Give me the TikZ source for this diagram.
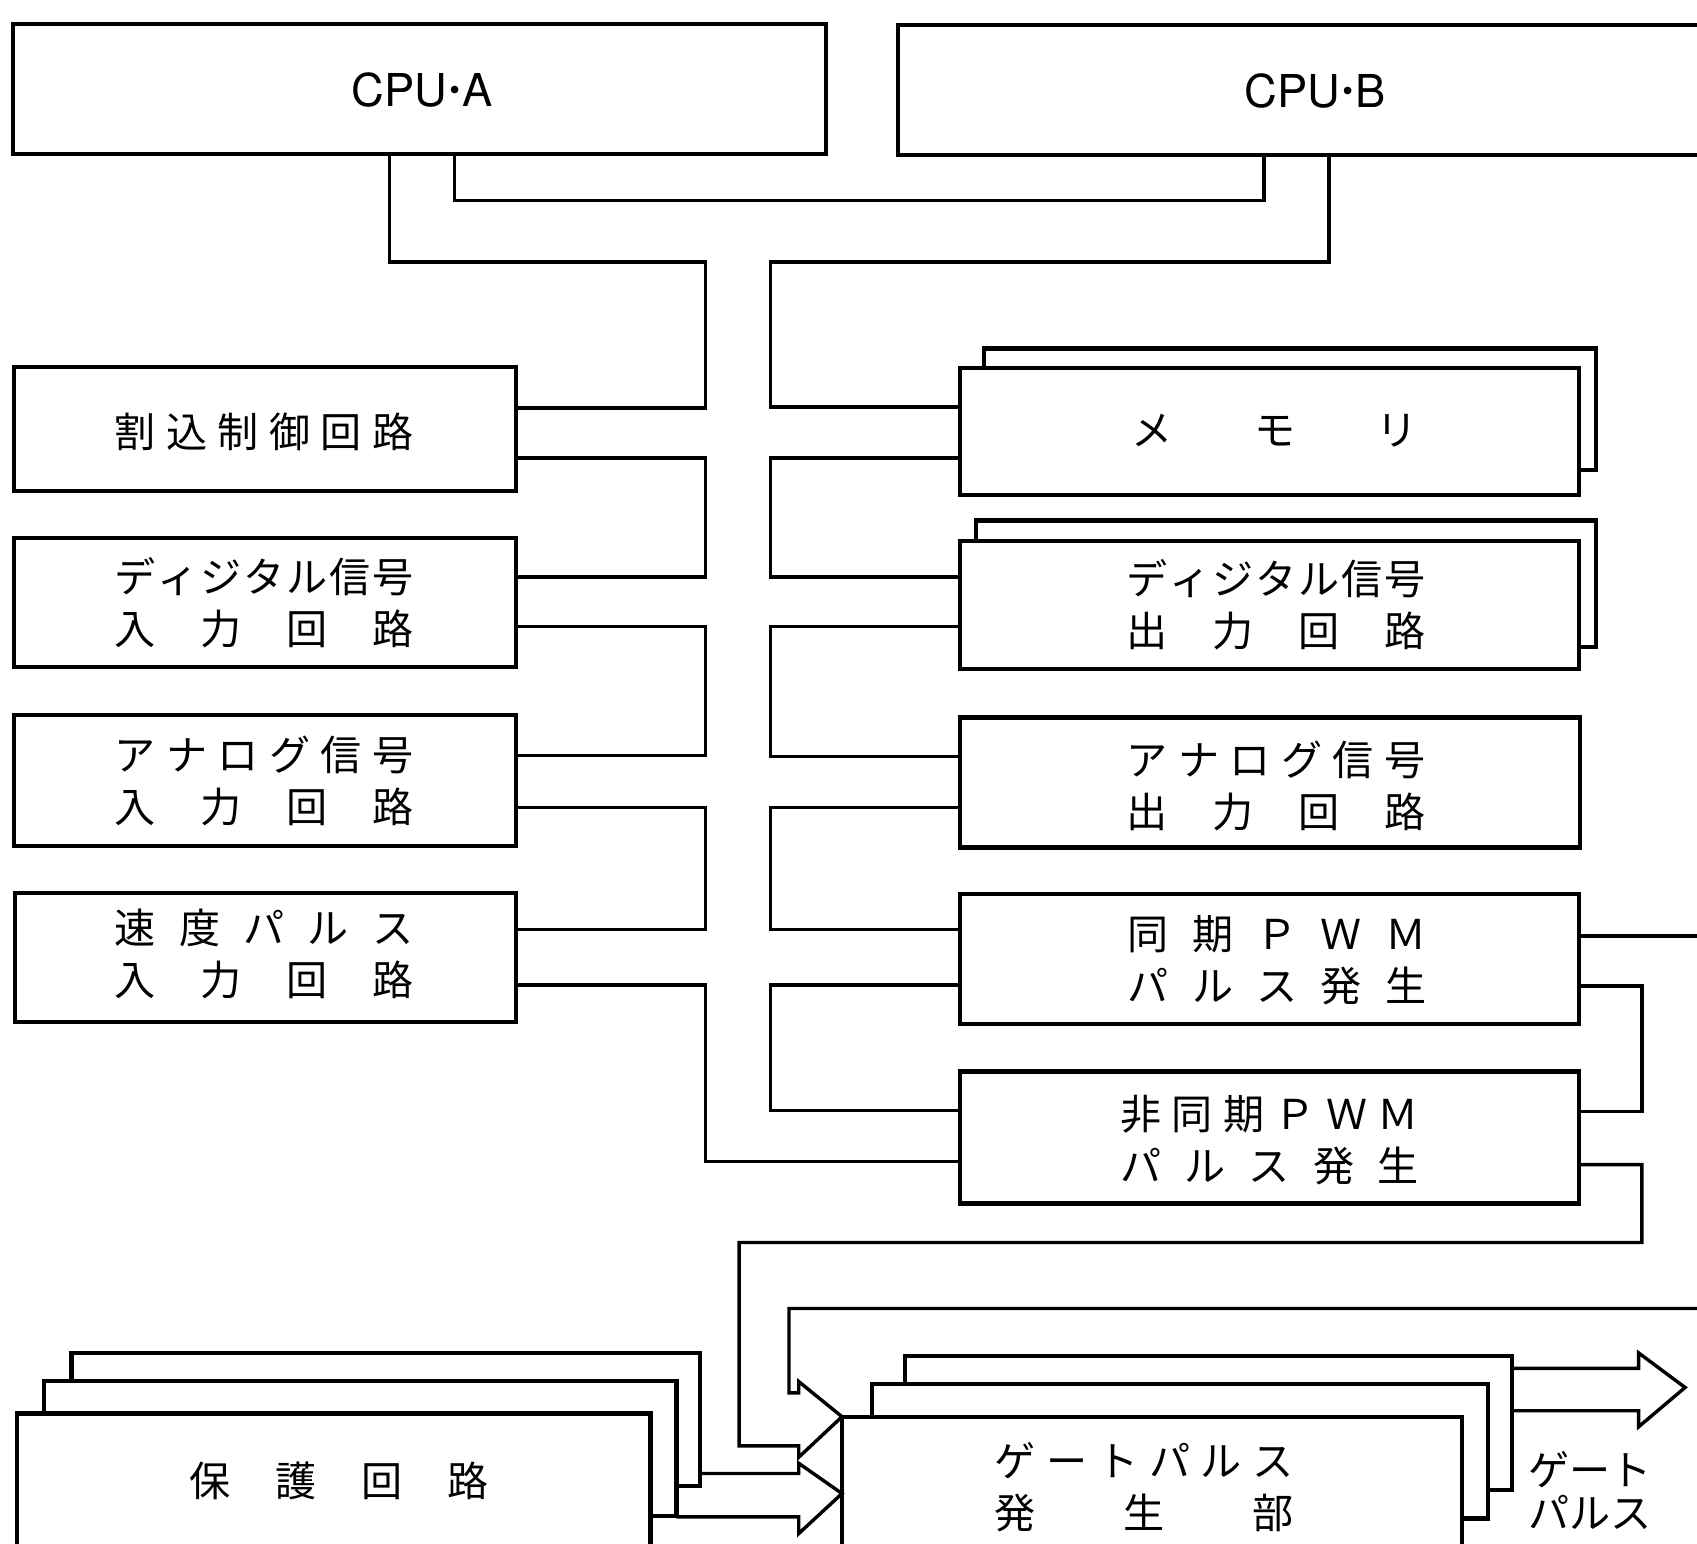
\documentclass[tikz,border=0pt]{standalone}
\usepackage{fontspec}
\newfontfamily\jp{Noto Sans CJK JP}
\newfontfamily\lat{TeX Gyre Heros}
\usetikzlibrary{calc}
\def\spreadaux#1{\ifx#1\relax\else#1\expandafter\spreadnext\fi}
\def\spreadnext#1{\ifx#1\relax\else\hfill#1\expandafter\spreadnext\fi}
\newcommand\spr[2][2.76cm]{\hbox to #1{\spreadaux#2\relax}}
\newcommand\bx[5]{\node[box,anchor=north west,minimum width={(#4-#2)*0.01cm},minimum height={(#5-#3)*0.01cm}] (#1) at (#2,#3) {};}
\newcommand\mdot{\kern0.6pt\raisebox{1.6pt}{\fontsize{8}{8}\selectfont •}\kern0.6pt}
\begin{document}
\begin{tikzpicture}[x=0.01cm,y=-0.01cm,
  box/.style={draw,line width=1.1pt,fill=white,inner sep=0pt,outer sep=0pt},
  ln/.style={line width=0.9pt,line join=miter},
  txt/.style={font=\jp\fontsize{10.8}{13.66}\selectfont,align=center,inner sep=0pt},
  lbl/.style={font=\jp\fontsize{10.8}{11.4}\selectfont,align=center,inner sep=0pt},
  lt/.style={font=\lat\fontsize{11.9}{14}\selectfont,inner sep=0pt}]
\useasboundingbox (0,0) rectangle (1568,1426);
\fill[white] (0,0) rectangle (1568,1426);
\clip (0,0) rectangle (1568,1426);
% boxes
\bx{cpua}{12}{22}{763}{142}
\bx{cpub}{830}{23}{1600}{143}
\bx{intr}{13}{339}{477}{454}
\bx{din}{13}{497}{477}{616}
\bx{ain}{13}{661}{477}{782}
\bx{spd}{14}{825}{477}{944}
\bx{memb}{909}{322}{1475}{434}
\bx{mem}{887}{340}{1459}{457}
\bx{doutb}{902}{481}{1475}{598}
\bx{dout}{887}{500}{1459}{618}
\bx{aout}{887}{663}{1460}{783}
\bx{spwm}{887}{826}{1459}{946}
\bx{apwm}{887}{990}{1459}{1112}
\bx{prot3}{66}{1250}{647}{1373}
\bx{prot2}{41}{1276}{625}{1401}
\bx{prot}{16}{1306}{601}{1450}
\bx{gate3}{836}{1253}{1397}{1377}
\bx{gate2}{806}{1279}{1375}{1403}
\bx{gate}{778}{1309}{1351}{1450}
% texts
\node[lt] (tcpua) at (390,83) {CPU\mdot A};
\node[lt] (tcpub) at (1215,84) {CPU\mdot B};
\node[txt] (tintr) at (244,399) {\spr{割込制御回路}};
\node[txt] (tdin) at (244,557) {\spr{ディジタル信号}\\\spr{入力回路}};
\node[txt] (tain) at (244,722) {\spr{アナログ信号}\\\spr{入力回路}};
\node[txt] (tspd) at (244,881) {\spr{速度パルス}\\\spr{入力回路}};
\node[txt] (tmem) at (1178,398) {\spr[2.64cm]{メモリ}};
\node[txt] (tdout) at (1179,559) {\spr{ディジタル信号}\\\spr{出力回路}};
\node[txt] (taout) at (1179,726) {\spr{アナログ信号}\\\spr{出力回路}};
\node[txt] (tspwm) at (1180,887) {\spr{同期ＰＷＭ}\\\spr{パルス発生}};
\node[txt] (tapwm) at (1173,1053) {\spr{非同期ＰＷＭ}\\\spr{パルス発生}};
\node[txt] (tprot) at (313,1368) {\spr{保護回路}};
\node[txt] (tgate) at (1057,1374) {\spr{ゲートパルス}\\\spr{発生部}};
\node[lbl] (tout) at (1469,1377) {ゲート\\パルス};
% coordinates
\coordinate (edgeA) at (1575,865);
\coordinate (edgeB) at (1575,1209);
\coordinate (outtip) at (1557,1282);
% CPU links
\draw[ln] (cpua.south -| 420,0) -- (420,185) -| (cpub.south -| 1168,0);
\draw[ln] (cpua.south -| 360,0) |- (652,242) |- (intr.east |- 0,377);
\draw[ln] (cpub.south -| 1228,0) |- (712,242) |- (mem.west |- 0,376);
% left chain
\draw[ln] (intr.east |- 0,423) -| (652,533) -- (din.east |- 0,533);
\draw[ln] (din.east |- 0,579) -| (652,698) -- (ain.east |- 0,698);
\draw[ln] (ain.east |- 0,746) -| (652,859) -- (spd.east |- 0,859);
\draw[ln] (spd.east |- 0,910) -| (652,1073) -- (apwm.west |- 0,1073);
% right chain
\draw[ln] (mem.west |- 0,423) -| (712,533) -- (dout.west |- 0,533);
\draw[ln] (dout.west |- 0,579) -| (712,699) -- (aout.west |- 0,699);
\draw[ln] (aout.west |- 0,746) -| (712,859) -- (spwm.west |- 0,859);
\draw[ln] (spwm.west |- 0,910) -| (712,1026) -- (apwm.west |- 0,1026);
% right side
\draw[ln] (spwm.east |- 0,865) -- (edgeA);
\draw[ln] (spwm.east |- 0,911) -| (1517,1027) -- (apwm.east |- 0,1027);
\draw[ln] (apwm.east |- 0,1076) -| (1517,1148) -| (683,1336) -- (738,1336) -- (738,1346.5) -- (gate.north west);
\draw[ln] (edgeB) -| (729,1287) -- (738,1287) -- (738,1276.5) -- (gate.north west);
% protection arrow
\draw[ln] (prot3.east |- 0,1361.5) -- (738,1361.5) -- (738,1352) -- (gate.west |- 0,1380) -- (738,1417) -- (738,1401.5) -- (prot2.east |- 0,1401.5);
% output arrow
\draw[ln] (gate3.east |- 0,1264.4) -- (1514,1264.4) -- (1514,1250) -- (outtip) -- (1514,1318.4) -- (1514,1303.5) -- (gate3.east |- 0,1303.5);
\end{tikzpicture}
\end{document}
